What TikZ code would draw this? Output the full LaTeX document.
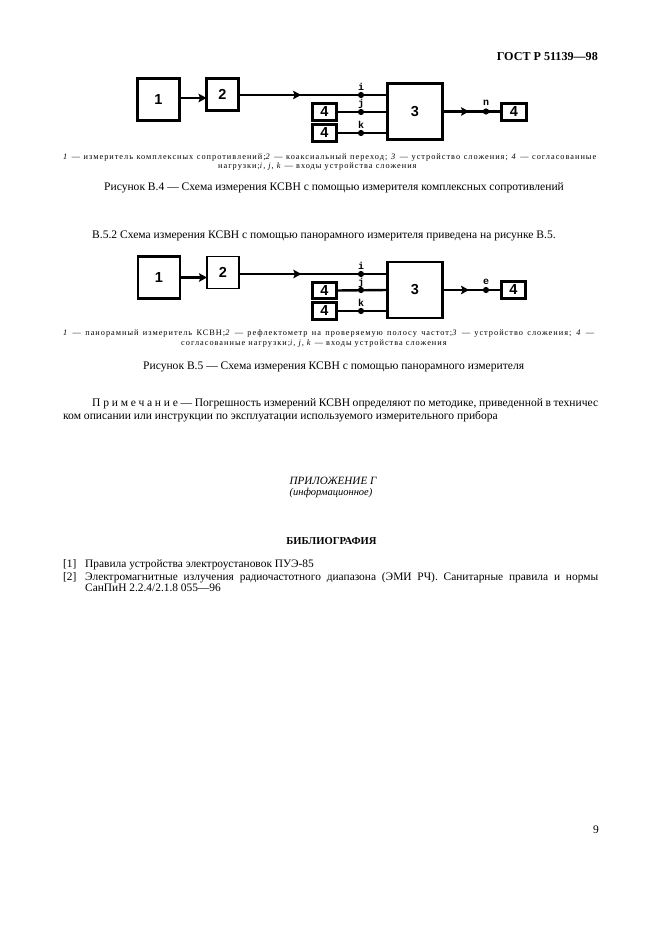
\documentclass[tikz,border=0pt]{standalone}
\usepackage{fontspec}
\setmainfont{Liberation Serif}
\newfontfamily\lblfont{Liberation Sans}
\newfontfamily\portfont{Liberation Mono}
\newfontfamily\spacedfont[LetterSpace=12]{Liberation Serif}
\newfontfamily\widefont[LetterSpace=24]{Liberation Serif}
\usetikzlibrary{decorations.markings,arrows.meta}
\newcommand{\jl}[2]{\makebox[#1pt][s]{#2}}
\tikzset{
  tipstyle/.tip={Stealth[length=8pt,width=8.5pt,inset=1.5pt]},
  blockbox/.style={draw=black,line width=#1,minimum width=0pt,inner sep=0pt,outer sep=0pt,font=\lblfont\bfseries\fontsize{14.5}{14.5}\selectfont},
  blockbox/.default=2.4pt,
  junction/.style={circle,fill=black,inner sep=0pt,minimum size=6.2pt,outer sep=0pt},
  portlabel/.style={font=\portfont\bfseries\fontsize{10}{10}\selectfont,inner sep=0pt,text=black},
  wire/.style={draw=black,line width=#1},
  wire/.default=2.4pt,
  arrowat/.style={postaction={decorate},decoration={markings,mark=at position #1 with {\arrow{tipstyle}}}},
  body/.style={font=\fontsize{11.55}{12}\selectfont,inner sep=0pt,anchor=base west,text=black},
  small/.style={font=\spacedfont\fontsize{8.3}{9}\selectfont,inner sep=0pt,anchor=base west,text=black},
}
\begin{document}
\begin{tikzpicture}[x=1pt,y=-1pt]
\useasboundingbox[fill=white] (0,0) rectangle (661,936);
% figure B.4
\node[blockbox,minimum width=42pt,minimum height=42pt] (a1) at (158.5,99.5) {1};
\node[blockbox,minimum width=32pt,minimum height=32pt] (a2) at (222.5,94.5) {2};
\node[blockbox,minimum width=55pt,minimum height=56pt] (a3) at (415,111.5) {3};
\node[blockbox,minimum width=24pt,minimum height=17pt] (a4) at (324.5,112) {4};
\node[blockbox,minimum width=24pt,minimum height=17pt] (a5) at (324.5,133) {4};
\node[blockbox,minimum width=25pt,minimum height=17pt] (a6) at (514,112) {4};
\node[junction] (ai) at (361,95) {};
\node[junction] (aj) at (361,112) {};
\node[junction] (ak) at (361,133) {};
\node[junction] (an) at (486,111.5) {};
\node[portlabel] (ali) at (361,87) {i};
\node[portlabel] (alj) at (361,104) {j};
\node[portlabel] (alk) at (361,124.5) {k};
\node[portlabel] (aln) at (486,103) {n};
\draw[wire,-tipstyle] ([yshift=1.5pt]a1.east) -- ([yshift=1.5pt]a1.east -| a2.west);
\draw[wire,arrowat=0.42] (a2.east |- ai) -- (a3.west |- ai);
\draw[wire] (a4.east) -- (a3.west |- aj);
\draw[wire] (a5.east) -- (a3.west |- ak);
\draw[wire,arrowat=0.45] (a3.east |- an) -- (a6.west |- an);
% figure B.5
\node[blockbox,minimum width=42pt,minimum height=42pt] (b1) at (159,277.5) {1};
\node[blockbox=1.8pt,minimum width=32pt,minimum height=32pt] (b2) at (223,272.5) {2};
\node[blockbox=2.2pt,minimum width=55pt,minimum height=56pt] (b3) at (415,290) {3};
\node[blockbox,minimum width=24pt,minimum height=16pt] (b4) at (324.5,290.5) {4};
\node[blockbox,minimum width=24pt,minimum height=17pt] (b5) at (324.5,311) {4};
\node[blockbox,minimum width=24pt,minimum height=17pt] (b6) at (513.5,290) {4};
\node[junction] (bi) at (361,274) {};
\node[junction] (bj) at (361,290) {};
\node[junction] (bk) at (361,311) {};
\node[junction] (bn) at (486,290) {};
\node[portlabel] (bli) at (361,266) {i};
\node[portlabel] (blj) at (361,283) {j};
\node[portlabel] (blk) at (361,302.5) {k};
\node[portlabel] (bln) at (486,281.5) {e};
\draw[wire,-tipstyle] (b1.east) -- (b1.east -| b2.west);
\draw[wire=1.6pt,arrowat=0.42] (b2.east |- bi) -- (b3.west |- bi);
\draw[wire] (b4.east) -- (b3.west |- bj);
\draw[wire=1.6pt] (b5.east) -- (b3.west |- bk);
\draw[wire,arrowat=0.45] (b3.east |- bn) -- (b6.west |- bn);
% text
\node[body,anchor=base east,font=\bfseries\fontsize{12.1}{12}\selectfont] (hdr) at (598,61) {ГОСТ Р 51139—98};
\node[small] (c1) at (63,159.5) {\jl{533}{\textit{1} — измеритель комплексных сопротивлений;\textit{2} — коаксиальный переход; \textit{3} — устройство сложения; \textit{4} — согласованные}};
\node[small] (c2) at (218,169) {нагрузки;\textit{i, j, k} — входы устройства сложения};
\node[body] (f1) at (104,190.5) {Рисунок В.4 — Схема измерения КСВН с помощью измерителя комплексных сопротивлений};
\node[body] (p1) at (92,238.5) {В.5.2 Схема измерения КСВН с помощью панорамного измерителя приведена на рисунке В.5.};
\node[small] (c3) at (63,335.5) {\jl{531}{\textit{1} — панорамный измеритель КСВН;\textit{2} — рефлектометр на проверяемую полосу частот;\textit{3} — устройство сложения; \textit{4} —}};
\node[small] (c4) at (181,345.5) {согласованные нагрузки;\textit{i, j, k} — входы устройства сложения};
\node[body] (f2) at (143,369) {Рисунок В.5 — Схема измерения КСВН с помощью панорамного измерителя};
\node[body] (n1) at (92,406.5) {\jl{506}{{\widefont Примечание} — Погрешность измерений КСВН определяют по методике, приведенной в техничес}};
\node[body] (n2) at (63,419) {ком описании или инструкции по эксплуатации используемого измерительного прибора};
\node[body,anchor=base,font=\itshape\fontsize{11.1}{12}\selectfont] (t1) at (333,484) {ПРИЛОЖЕНИЕ Г};
\node[body,anchor=base,font=\itshape\fontsize{10.5}{12}\selectfont] (t2) at (331,495) {(информационное)};
\node[body,anchor=base,font=\bfseries\fontsize{10.6}{12}\selectfont] (t3) at (331.5,544) {БИБЛИОГРАФИЯ};
\node[body,font=\fontsize{11.4}{12}\selectfont] (r1n) at (63,567.5) {[1]};
\node[body,font=\fontsize{11.4}{12}\selectfont] (r1) at (85,567.5) {Правила устройства электроустановок ПУЭ-85};
\node[body,font=\fontsize{11.4}{12}\selectfont] (r2n) at (63,580) {[2]};
\node[body,font=\fontsize{11.4}{12}\selectfont] (r2) at (85,580) {\jl{513}{Электромагнитные излучения радиочастотного диапазона (ЭМИ РЧ). Санитарные правила и нормы}};
\node[body,font=\fontsize{11.4}{12}\selectfont] (r3) at (85,591) {СанПиН 2.2.4/2.1.8 055—96};
\node[body,anchor=base east] (pg) at (599,833) {9};
\end{tikzpicture}
\end{document}
